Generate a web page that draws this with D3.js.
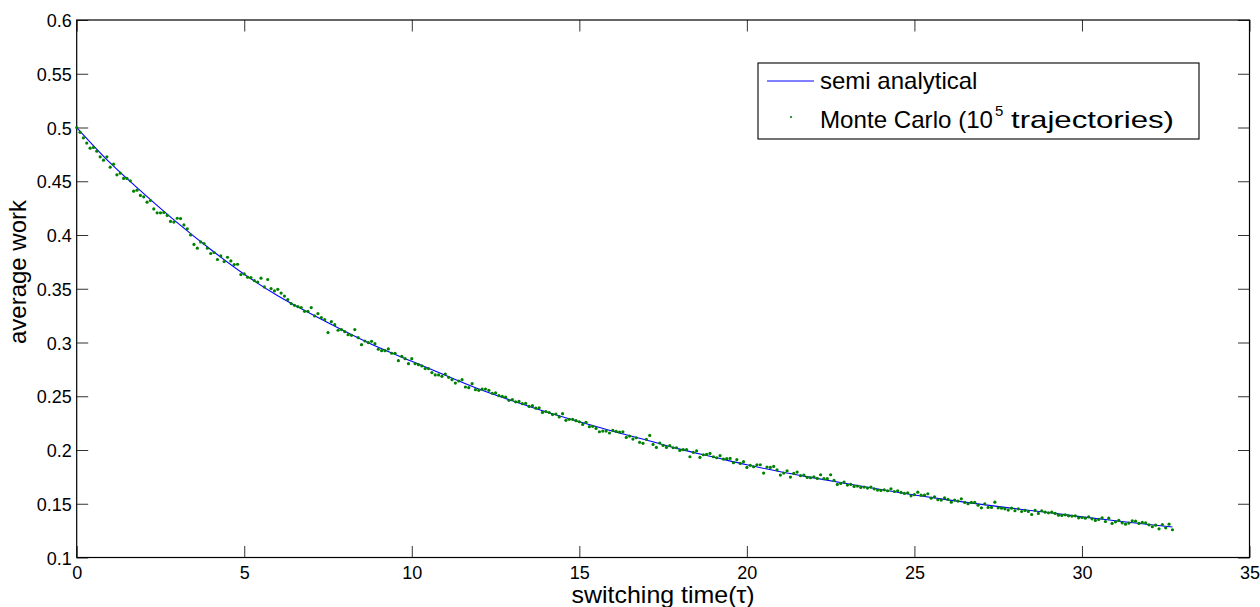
<!DOCTYPE html>
<html><head><meta charset="utf-8">
<script src="https://cdn.jsdelivr.net/npm/d3@7"></script>
<style>
html,body{margin:0;padding:0;background:#fff;}
svg{display:block;font-family:"Liberation Sans",Arial,Helvetica,sans-serif;}
</style></head><body>
<svg id="chart" width="1260" height="607"></svg>
<script>
// ---- data ----
const xTicks = [0, 5, 10, 15, 20, 25, 30, 35];
const yTicks = [0.1, 0.15, 0.2, 0.25, 0.3, 0.35, 0.4, 0.45, 0.5, 0.55, 0.6];

// semi analytical curve
const curveTau = [0,1,2,3,4,5,6,7,8,9,10,11,12,13,14,15,16,17,18,19,20,21,22,23,24,25,26,27,28,29,30,31,32,32.7];
const curveWork = [0.500,0.467,0.4385,0.4115,0.3865,0.3635,0.3435,0.3265,0.3105,0.2955,0.2825,0.2695,0.2568,0.2458,0.2355,0.2262,0.2175,0.2093,0.2008,0.1935,0.1862,0.1798,0.1741,0.1686,0.1633,0.1582,0.1536,0.1494,0.1455,0.1418,0.1378,0.1342,0.1307,0.1284];

// Monte Carlo points, tau = 0.0, 0.1, 0.2 ... 32.7
const mcTauStart = 0;
const mcTauStep = 0.1;
const mcWork = [
0.500,0.4955,0.4904,0.4855,0.4808,0.4815,0.478,0.4727,0.4696,0.4727,
0.4631,0.4659,0.456,0.4575,0.4526,0.4526,0.4504,0.4408,0.4417,0.4368,
0.4355,0.4305,0.4321,0.4243,0.4206,0.4206,0.421,0.4182,0.4126,0.412,
0.4156,0.4153,0.4094,0.4057,0.4001,0.3912,0.3877,0.3936,0.392,0.3877,
0.3828,0.3837,0.3772,0.3805,0.3753,0.3793,0.3759,0.3725,0.3728,0.3632,
0.3638,0.3607,0.3604,0.3576,0.3563,0.3598,0.3517,0.3586,0.3502,0.348,
0.3495,0.346,0.3432,0.3399,0.3362,0.3346,0.3334,0.3325,0.3290,0.3290,
0.3325,0.3247,0.3269,0.3232,0.3213,0.3092,0.3194,0.3166,0.3114,0.3120,
0.3101,0.3073,0.3067,0.3120,0.3045,0.2980,0.3014,0.2999,0.3011,0.2989,
0.2937,0.2924,0.2924,0.2940,0.2900,0.2900,0.2831,0.2872,0.2850,0.2803,
0.2850,0.2803,0.2794,0.2782,0.2757,0.2757,0.2720,0.2698,0.2698,0.2685,
0.2707,0.2676,0.2654,0.2623,0.2642,0.2654,0.2586,0.2580,0.2617,0.2561,
0.2555,0.2567,0.2567,0.2555,0.2528,0.2531,0.2505,0.2498,0.2492,0.2462,
0.2470,0.2448,0.2452,0.2431,0.2433,0.2405,0.2412,0.2389,0.2393,0.2350,
0.2358,0.2349,0.2330,0.2335,0.2308,0.2338,0.2276,0.2285,0.2285,0.2273,
0.2263,0.2238,0.2257,0.2217,0.2220,0.2201,0.2170,0.2176,0.2176,0.2158,
0.2183,0.2173,0.2167,0.2170,0.2117,0.2130,0.2102,0.2114,0.2071,0.2062,
0.2099,0.2136,0.2052,0.2024,0.2065,0.2043,0.2024,0.2040,0.2021,0.2021,
0.1996,0.2003,0.2003,0.1937,0.1978,0.1993,0.1931,0.1956,0.1959,0.1968,
0.1937,0.1928,0.1947,0.1916,0.1919,0.1922,0.1882,0.1910,0.1875,0.1891,
0.1838,0.1857,0.1844,0.1863,0.1863,0.1785,0.1841,0.1838,0.1847,0.1816,
0.1767,0.1785,0.1807,0.1748,0.1782,0.1795,0.1761,0.1767,0.1745,0.1742,
0.1751,0.1736,0.1770,0.1733,0.1733,0.1770,0.1717,0.1680,0.1689,0.1702,
0.1674,0.1680,0.1661,0.1664,0.1652,0.1655,0.1646,0.1655,0.1639,0.1627,
0.1624,0.1630,0.1621,0.1639,0.1614,0.1621,0.1605,0.1596,0.1602,0.1574,
0.1584,0.1608,0.1580,0.1580,0.1593,0.1552,0.1565,0.1537,0.1534,0.1556,
0.1540,0.1515,0.1534,0.1525,0.1546,0.1512,0.1500,0.1512,0.1512,0.1487,
0.1462,0.1500,0.1466,0.1466,0.1515,0.1462,0.1459,0.1453,0.1441,0.1459,
0.1435,0.1453,0.1428,0.1438,0.1428,0.1400,0.1438,0.1410,0.1435,0.1422,
0.1416,0.1422,0.1410,0.1394,0.1391,0.1397,0.1388,0.1385,0.1388,0.1369,
0.1372,0.1366,0.1379,0.1360,0.1345,0.1354,0.1369,0.1335,0.1366,0.1317,
0.1332,0.1345,0.1323,0.1310,0.1320,0.1341,0.1338,0.1317,0.1326,0.1323,
0.1304,0.1286,0.1301,0.1267,0.1307,0.1276,0.1310,0.1258
];

const xTitle = "switching time(\u03C4)";
const yTitle = "average work";
const legendLine = "semi analytical";
const legendDotPre = "Monte Carlo (10";
const legendDotSup = "5";
const legendDotPost = "trajectories)";

// ---- layout ----
const L = 76.7, R = 1249.5, T = 20, B = 557.5;
const svg = d3.select("#chart");
const x = d3.scaleLinear().domain([0, 35]).range([L, R]);
const y = d3.scaleLinear().domain([0.1, 0.6]).range([B, T]);
const fmt = d => String(+d.toFixed(2));
const TICK = 11.5;

svg.append("rect").attr("x",0).attr("y",0).attr("width",1260).attr("height",607).attr("fill","#fff");

function styleAxis(g){
  g.select(".domain").remove();
  g.selectAll(".tick line").attr("stroke","#333").attr("stroke-width",1);
  g.selectAll(".tick text").attr("fill","#000").attr("font-size","18px")
   .attr("font-family",'"Liberation Sans",Arial,sans-serif');
}

svg.append("g").attr("transform",`translate(0,${B})`)
  .call(d3.axisBottom(x).tickValues(xTicks).tickFormat(d3.format("d")).tickSizeInner(-TICK).tickSizeOuter(0).tickPadding(8.5))
  .call(styleAxis);
svg.append("g").attr("transform",`translate(0,${T})`)
  .call(d3.axisTop(x).tickValues(xTicks).tickFormat("").tickSizeInner(-TICK).tickSizeOuter(0))
  .call(styleAxis);
const ya = svg.append("g").attr("transform",`translate(${L},0)`)
  .call(d3.axisLeft(y).tickValues(yTicks).tickFormat(fmt).tickSizeInner(-TICK).tickSizeOuter(0).tickPadding(5))
  .call(styleAxis);
ya.selectAll(".tick text").attr("dy","0.37em");
svg.append("g").attr("transform",`translate(${R},0)`)
  .call(d3.axisRight(y).tickValues(yTicks).tickFormat("").tickSizeInner(-TICK).tickSizeOuter(0))
  .call(styleAxis);

// box
svg.append("rect").attr("x",L).attr("y",T).attr("width",R-L).attr("height",B-T)
  .attr("fill","none").attr("stroke","#000").attr("stroke-width",1.2);

// curve
const curveData = curveTau.map((t,i)=>[t, curveWork[i]]);
svg.append("path").datum(curveData)
  .attr("fill","none").attr("stroke","#0000ff").attr("stroke-width",1.1)
  .attr("d", d3.line().x(d=>x(d[0])).y(d=>y(d[1])).curve(d3.curveMonotoneX));

// Monte Carlo dots
const mcData = mcWork.map((v,i)=>[+(mcTauStart + i*mcTauStep).toFixed(1), v]);
svg.append("g").selectAll("circle").data(mcData).join("circle")
  .attr("cx", d=>x(d[0])).attr("cy", d=>y(d[1])).attr("r",1.6).attr("fill","#008000");

// axis titles
svg.append("text").attr("x",(L+R)/2).attr("y",603).attr("text-anchor","middle")
  .attr("font-size","24px").attr("textLength",183).attr("lengthAdjust","spacingAndGlyphs")
  .attr("fill","#000").text(xTitle);
svg.append("text").attr("transform","translate(25.5,272) rotate(-90)").attr("text-anchor","middle")
  .attr("font-size","24px")
  .attr("fill","#000").text(yTitle);

// legend
const lg = svg.append("g");
lg.append("rect").attr("x",758).attr("y",63).attr("width",441).attr("height",76)
  .attr("fill","#fff").attr("stroke","#000").attr("stroke-width",1.1);
lg.append("line").attr("x1",767).attr("x2",814).attr("y1",81).attr("y2",81)
  .attr("stroke","#0000ff").attr("stroke-width",1.1);
lg.append("text").attr("x",820).attr("y",89).attr("font-size","24px")
  .attr("fill","#000").text(legendLine);
lg.append("circle").attr("cx",791).attr("cy",117).attr("r",1.1).attr("fill","#008000");
lg.append("text").attr("x",820).attr("y",128).attr("font-size","24px")
  .attr("textLength",173).attr("lengthAdjust","spacingAndGlyphs").attr("fill","#000").text(legendDotPre);
lg.append("text").attr("x",995).attr("y",115.5).attr("font-size","15px").attr("fill","#000").text(legendDotSup);
lg.append("text").attr("x",1011).attr("y",128).attr("font-size","24px")
  .attr("textLength",163).attr("lengthAdjust","spacingAndGlyphs").attr("fill","#000").text(legendDotPost);
</script>
</body></html>
